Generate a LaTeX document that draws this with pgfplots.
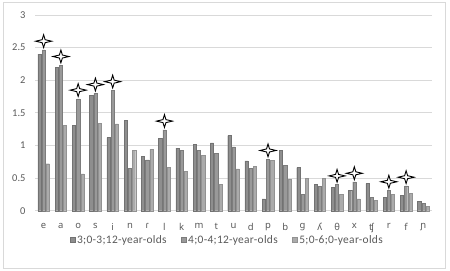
\documentclass[border=0pt]{standalone}
\usepackage{fontspec}
\setmainfont{Carlito}
\newfontfamily\ipafont{Noto Sans}
\newfontfamily\legfont[LetterSpace=2.5]{Carlito}
\usepackage{pgfplots}
\pgfplotsset{compat=1.18}
\usepackage{pgfplotstable}

\definecolor{txt}{HTML}{595959}
\definecolor{gridc}{HTML}{D9D9D9}
\definecolor{fA}{HTML}{8E8E8E}
\definecolor{eA}{HTML}{727272}
\definecolor{fB}{HTML}{999999}
\definecolor{eB}{HTML}{7C7C7C}
\definecolor{fC}{HTML}{ABABAB}
\definecolor{eC}{HTML}{929292}

% four-pointed sparkle, drawn a little above the data point
\pgfdeclareplotmark{sparkle}{%
  \pgfpathmoveto{\pgfpoint{0bp}{15.2bp}}%
  \pgfpathlineto{\pgfpoint{1.5bp}{10.2bp}}%
  \pgfpathlineto{\pgfpoint{8bp}{8.7bp}}%
  \pgfpathlineto{\pgfpoint{1.5bp}{7.2bp}}%
  \pgfpathlineto{\pgfpoint{0bp}{2.4bp}}%
  \pgfpathlineto{\pgfpoint{-1.5bp}{7.2bp}}%
  \pgfpathlineto{\pgfpoint{-8bp}{8.7bp}}%
  \pgfpathlineto{\pgfpoint{-1.5bp}{10.2bp}}%
  \pgfpathclose
  \pgfusepath{fill,stroke}}

% mean values per phoneme, index 0..22
\pgfplotstableread{
x  a      b      c
0  2.40   2.465  0.72
1  2.20   2.23   1.31
2  1.31   1.715  0.565
3  1.77   1.80   1.34
4  1.12   1.845  1.33
5  1.38   0.65   0.93
6  0.83   0.78   0.94
7  1.11   1.24   0.66
8  0.96   0.925  0.60
9  1.02   0.925  0.85
10 1.04   0.88   0.405
11 1.15   0.98   0.64
12 0.765  0.65   0.68
13 0.18   0.79   0.775
14 0.92   0.69   0.48
15 0.66   0.25   0.50
16 0.40   0.375  0.50
17 0.36   0.40   0.25
18 0.31   0.44   0.18
19 0.415  0.21   0.155
20 0.205  0.31   0.25
21 0.235  0.38   0.27
22 0.14   0.115  0.065
}\datatable

% significant differences
\pgfplotstableread{
x  y
0  2.465
1  2.23
2  1.715
3  1.80
4  1.845
7  1.24
13 0.79
17 0.40
18 0.44
20 0.31
21 0.38
}\startable

\begin{document}
\begin{tikzpicture}
\useasboundingbox (0,0) rectangle (450bp,271bp);
\draw[gridc, line width=0.8bp] (3.3bp,2.5bp) rectangle (445bp,268.5bp);
\begin{axis}[
  at={(35bp,60.3bp)}, anchor=south west,
  scale only axis, width=397bp, height=195.7bp,
  xmin=-0.5, xmax=22.5, ymin=0, ymax=3,
  ytick={0,0.5,...,3},
  yticklabels={0,0.5,1,1.5,2,2.5,3},
  xtick={0,...,22},
  xticklabels={e,a,o,s,i,n,ɾ,l,k,m,t,u,d,p,b,g,ʎ,θ,x,ʧ,r,f,ɲ},
  axis line style={draw=none},
  major tick length=0pt,
  ymajorgrids, grid style={gridc, line width=0.8bp},
  tick label style={txt},
  yticklabel style={font=\fontsize{10.5}{12}\selectfont, xshift=-6bp},
  xticklabel style={font=\ipafont\fontsize{9.5}{11}\selectfont, yshift=-9bp},
  ybar, bar width=3.2bp,
  clip=false,
  legend style={draw=none, fill=none, at={(0.484,-0.15)}, anchor=center,
    font=\legfont\fontsize{11.5}{13}\selectfont, text=txt,
    legend columns=3,
    /tikz/every even column/.append style={column sep=12bp}},
  legend image code/.code={\fill[#1] (0bp,-2.6bp) rectangle (5.2bp,2.6bp);},
]
\addplot[fill=fA, draw=eA, line width=0.4bp, bar shift=-4.2bp] table[x=x, y=a] {\datatable};
\addplot[fill=fB, draw=eB, line width=0.4bp, bar shift=0bp] table[x=x, y=b] {\datatable};
\addplot[fill=fC, draw=eC, line width=0.4bp, bar shift=4.2bp] table[x=x, y=c] {\datatable};
\legend{3;0-3;12-year-olds, 4;0-4;12-year-olds, 5;0-6;0-year-olds}
\addplot[only marks, forget plot, mark=sparkle,
  mark options={fill=white, draw=black, line width=0.9bp}]
  table[x=x, y=y] {\startable};
\end{axis}
\end{tikzpicture}
\end{document}
